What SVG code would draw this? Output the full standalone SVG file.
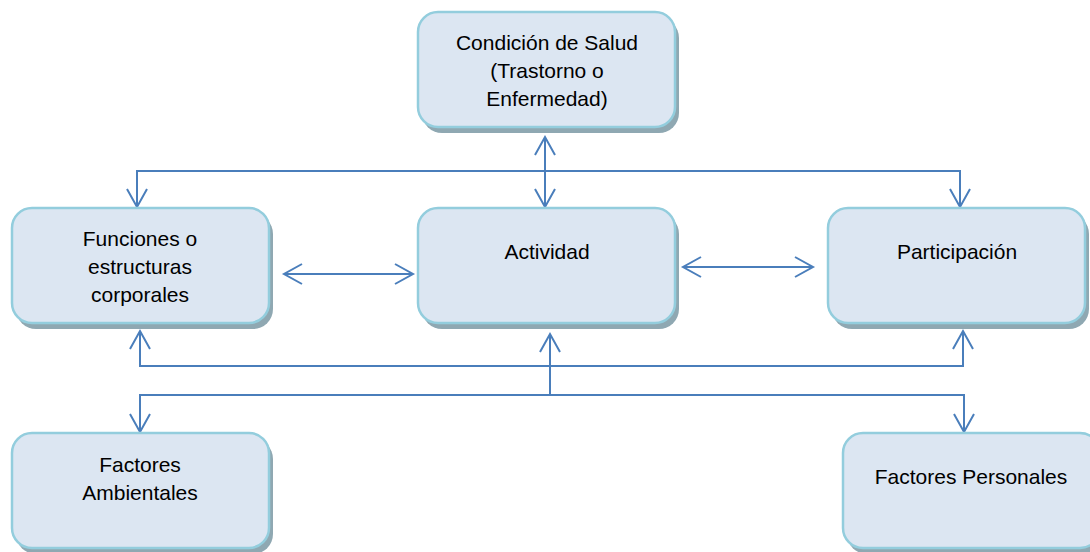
<svg xmlns="http://www.w3.org/2000/svg" width="1090" height="552" viewBox="0 0 1090 552">
<style>
.shadow{fill:#8fa8b2;}
.box{fill:#dce6f2;stroke:#93cddd;stroke-width:2.5;}
.lbl{font-family:"Liberation Sans",Arial,sans-serif;font-size:21px;fill:#000;text-anchor:middle;}
.conn{fill:none;stroke:#4a7ebb;stroke-width:2;}
</style>
<defs>
<marker id="arr" markerUnits="userSpaceOnUse" markerWidth="24" markerHeight="24" viewBox="-20 -12 22 24" refX="0" refY="0" orient="auto-start-reverse">
<path d="M-18,-10 L0,0 L-18,10" fill="none" stroke="#4a7ebb" stroke-width="2"/>
</marker>
</defs>
<g id="connectors">
<path class="conn" d="M545,137 V207" marker-start="url(#arr)" marker-end="url(#arr)"/>
<path class="conn" d="M137,207 V171 H960 V207" marker-start="url(#arr)" marker-end="url(#arr)"/>
<path class="conn" d="M284,274 H413" marker-start="url(#arr)" marker-end="url(#arr)"/>
<path class="conn" d="M683,267 H813" marker-start="url(#arr)" marker-end="url(#arr)"/>
<path class="conn" d="M140,331 V366 H963 V331" marker-start="url(#arr)" marker-end="url(#arr)"/>
<path class="conn" d="M140,432 V395 H964 V432" marker-start="url(#arr)" marker-end="url(#arr)"/>
<path class="conn" d="M550,395 V334" marker-end="url(#arr)"/>
</g>
<g id="cond">
<rect class="shadow" x="422" y="18" width="257" height="115" rx="20"/>
<rect class="box" x="418" y="12" width="257" height="115" rx="20"/>
<text class="lbl" x="547" y="50">Condición de Salud</text>
<text class="lbl" x="547" y="78">(Trastorno o</text>
<text class="lbl" x="547" y="106">Enfermedad)</text>
</g>
<g id="func">
<rect class="shadow" x="16" y="214" width="257" height="115" rx="20"/>
<rect class="box" x="12" y="208" width="257" height="115" rx="20"/>
<text class="lbl" x="140" y="246">Funciones o</text>
<text class="lbl" x="140" y="274">estructuras</text>
<text class="lbl" x="140" y="302">corporales</text>
</g>
<g id="act">
<rect class="shadow" x="422" y="214" width="257" height="115" rx="20"/>
<rect class="box" x="418" y="208" width="257" height="115" rx="20"/>
<text class="lbl" x="547" y="259">Actividad</text>
</g>
<g id="part">
<rect class="shadow" x="832" y="214" width="257" height="115" rx="20"/>
<rect class="box" x="828" y="208" width="257" height="115" rx="20"/>
<text class="lbl" x="957" y="259">Participación</text>
</g>
<g id="amb">
<rect class="shadow" x="16" y="439" width="257" height="115" rx="20"/>
<rect class="box" x="12" y="433" width="257" height="115" rx="20"/>
<text class="lbl" x="140" y="472">Factores</text>
<text class="lbl" x="140" y="500">Ambientales</text>
</g>
<g id="pers">
<rect class="shadow" x="847" y="439" width="257" height="115" rx="20"/>
<rect class="box" x="843" y="433" width="257" height="115" rx="20"/>
<text class="lbl" x="971" y="484">Factores Personales</text>
</g>
</svg>
